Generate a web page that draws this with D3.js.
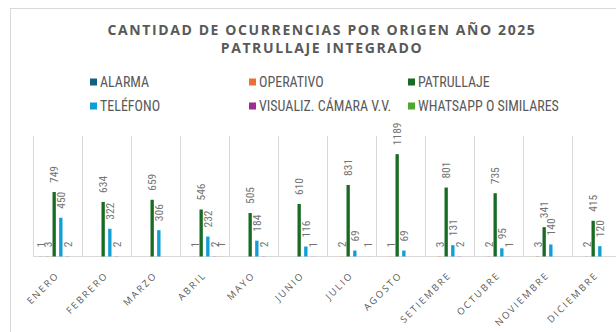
<!DOCTYPE html>
<html>
<head>
<meta charset="utf-8">
<script src="https://cdn.jsdelivr.net/npm/d3@7"></script>
<style>
  html, body { margin: 0; padding: 0; background: #fff; }
  svg { display: block; }
</style>
</head>
<body>
<svg id="chart" width="616" height="332"></svg>
<script>
// Monthly occurrences by origin, 2025
const months = ["ENERO", "FEBRERO", "MARZO", "ABRIL", "MAYO", "JUNIO", "JULIO",
                "AGOSTO", "SETIEMBRE", "OCTUBRE", "NOVIEMBRE", "DICIEMBRE"];
const seriesNames = ["ALARMA", "OPERATIVO", "PATRULLAJE", "TELÉFONO",
                     "VISUALIZ. CÁMARA V.V.", "WHATSAPP O SIMILARES"];
const seriesColors = ["#156082", "#E97132", "#196B24", "#0F9ED5", "#A02B93", "#4EA72E"];

const alarma     = [1, null, null, null, null, null, null, null, null, null, null, null];
const operativo  = [3, null, null, 1, null, null, 2, 1, 3, 2, 3, 2];
const patrullaje = [749, 634, 659, 546, 505, 610, 831, 1189, 801, 735, 341, 415];
const telefono   = [450, 322, 306, 232, 184, 116, 69, 69, 131, 95, 140, 120];
const visualiz   = [2, 2, null, 2, 2, 1, null, null, 2, 1, null, null];
const whatsapp   = [null, null, null, 1, null, null, 1, null, null, null, null, null];

const seriesValues = [alarma, operativo, patrullaje, telefono, visualiz, whatsapp];
const yMax = 1400;

const svg = d3.select("#chart");
const grid = "#d9d9d9";
const textGray = "#595959";
const narrow = "'Liberation Sans Narrow', 'Arial Narrow', 'Roboto Condensed', 'Liberation Sans', Arial, sans-serif";

// chart frame edges
svg.append("line").attr("x1", 10.5).attr("x2", 10.5).attr("y1", 8).attr("y2", 332)
  .attr("stroke", grid);
svg.append("line").attr("x1", 10).attr("x2", 616).attr("y1", 8.5).attr("y2", 8.5)
  .attr("stroke", grid);

// title
const title = svg.append("text")
  .attr("text-anchor", "middle")
  .attr("font-family", "'Open Sans', 'Liberation Sans', sans-serif")
  .attr("font-weight", 700).attr("font-size", 14)
  .attr("letter-spacing", 1.6)
  .attr("fill", textGray);
title.append("tspan").attr("x", 322).attr("y", 35).text("CANTIDAD DE OCURRENCIAS POR ORIGEN AÑO 2025");
title.append("tspan").attr("x", 322).attr("y", 53).text("PATRULLAJE INTEGRADO");

// legend: two rows of three
const legendCols = [90, 249, 408];
const legendRows = [82, 106];
const legend = svg.append("g");
seriesNames.forEach((name, i) => {
  const x = legendCols[i % 3], y = legendRows[Math.floor(i / 3)];
  legend.append("rect").attr("x", x).attr("y", y - 3.5).attr("width", 7).attr("height", 7)
    .attr("fill", seriesColors[i]);
  legend.append("text").attr("x", x + 10).attr("y", y).attr("dy", "0.36em")
    .attr("font-family", narrow).attr("font-size", 14)
    .attr("fill", textGray).text(name);
});

// scales
const x0 = d3.scaleBand().domain(months).range([33, 621]).padding(0);
const x1 = d3.scaleBand().domain(seriesNames)
  .range([4.5, x0.bandwidth() - 4.5]).paddingInner(0.5).paddingOuter(0.25);
const y = d3.scaleLinear().domain([0, yMax]).range([256.5, 136]);

// vertical category gridlines
const gl = svg.append("g");
months.forEach(m => {
  gl.append("line")
    .attr("x1", x0(m) + 0.5).attr("x2", x0(m) + 0.5)
    .attr("y1", y(yMax)).attr("y2", y(0))
    .attr("stroke", grid);
});
// category axis line
svg.append("line").attr("x1", 33).attr("x2", 621)
  .attr("y1", y(0)).attr("y2", y(0)).attr("stroke", grid);

// bars and value labels
const rows = [];
months.forEach((m, mi) => {
  seriesNames.forEach((s, si) => {
    const v = seriesValues[si][mi];
    if (v !== null) rows.push({ month: m, series: s, color: seriesColors[si], value: v });
  });
});

svg.append("g").selectAll("rect").data(rows).join("rect")
  .attr("x", d => x0(d.month) + x1(d.series))
  .attr("width", x1.bandwidth())
  .attr("y", d => y(d.value))
  .attr("height", d => y(0) - y(d.value))
  .attr("fill", d => d.color);

svg.append("g").selectAll("text").data(rows).join("text")
  .attr("transform", d => {
    const cx = x0(d.month) + x1(d.series) + x1.bandwidth() / 2;
    return `translate(${cx},${y(d.value) - 9}) rotate(-90)`;
  })
  .attr("dy", "0.35em")
  .attr("text-anchor", "start")
  .attr("font-family", narrow).attr("font-size", 11.5)
  .attr("fill", "#737373")
  .text(d => d.value);

// month labels, slanted
svg.append("g").selectAll("text").data(months).join("text")
  .attr("transform", m => `translate(${x0(m) + x0.bandwidth() / 2},${y(0) + 17}) rotate(-45)`)
  .attr("text-anchor", "end")
  .attr("dy", "0.35em")
  .attr("font-family", "'Open Sans', 'Liberation Sans', sans-serif")
  .attr("font-size", 9.5).attr("letter-spacing", 2)
  .attr("fill", textGray)
  .text(m => m);
</script>
</body>
</html>
